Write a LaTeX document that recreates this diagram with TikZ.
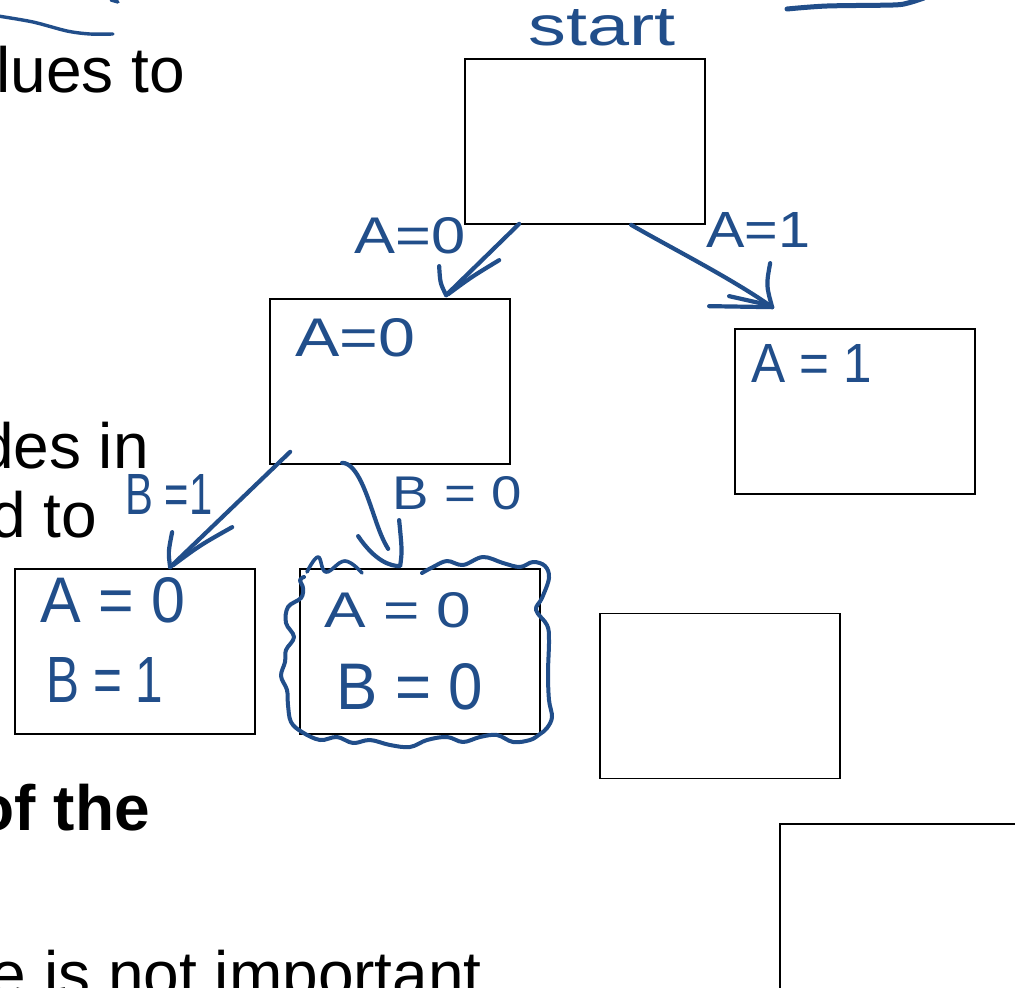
\documentclass[tikz,border=0pt]{standalone}
\usepackage{fontspec}
\setmainfont{Liberation Sans}
\usepackage{graphicx}
\usetikzlibrary{calc}
\definecolor{handblue}{RGB}{33,78,138}
\begin{document}
\begin{tikzpicture}[x=1pt,y=-1pt,
  box/.style={draw=black, line width=1.7pt, minimum width=240pt, minimum height=165pt, inner sep=0pt},
  hand/.style={draw=handblue, line width=4.2pt, line cap=round, line join=round},
  hw/.style={text=handblue, inner sep=0pt},
  slide/.style={inner sep=0pt, font=\fontsize{64}{76}\selectfont, anchor=base east}]
\useasboundingbox (0,0) rectangle (1015,988);
\clip (0,0) rectangle (1015,988);
\fill[white] (0,0) rectangle (1015,988);

% slide text fragments (cut at the left and bottom edges, as in the reference)
\node[slide] (t1) at (185,92) {lues to};
\node[slide] (t2) at (149,468) {des in};
\node[slide] (t3) at (97,537) {d to};
\node[slide, font=\fontsize{64}{76}\selectfont\bfseries] (t4) at (150,830) {of the};
\node[slide] (t5) at (482,996) {e is not important};

% boxes
\node[box] (start) at (585,141.5) {};
\node[box] (a0) at (390,381.5) {};
\node[box] (a1) at (855,411.5) {};
\node[box] (b1) at (135,651.5) {};
\node[box] (b0) at (420,651.5) {};
\node[box] (e1) at (720,696) {};
\node[box] (e2) at (900,906.5) {};

% handwritten labels
\node[hw] (lstart) at (602,28) {\resizebox{147pt}{36pt}{start}};
\node[hw] (la0) at (410,236) {\resizebox{111pt}{36pt}{A=0}};
\node[hw] (la1) at (758,230) {\resizebox{104pt}{35pt}{A=1}};
\node[hw] (ca0) at (355,338) {\resizebox{120pt}{38pt}{A=0}};
\node[hw] (ca1) at (812,363) {\resizebox{121pt}{38pt}{A = 1}};
\node[hw] (lb1) at (169,494) {\resizebox{87pt}{40pt}{B =1}};
\node[hw] (lb0) at (457,493) {\resizebox{129pt}{33pt}{B = 0}};
\node[hw] (cb1a) at (113,600) {\resizebox{144pt}{45pt}{A = 0}};
\node[hw] (cb1b) at (105,680) {\resizebox{117pt}{45pt}{B = 1}};
\node[hw] (cb0a) at (398,610) {\resizebox{147pt}{35pt}{A = 0}};
\node[hw] (cb0b) at (410,687) {\resizebox{146pt}{46pt}{B = 0}};

% top decorative strokes
\draw[hand, line width=3.4pt] plot[smooth] coordinates {(-2,16) (33,22) (67,31) (90,34) (113,34)};
\draw[hand, line width=3.4pt] (111,0) -- (118,2);
\draw[hand, line width=5pt] plot[smooth] coordinates {(787,9) (827,6) (893,5) (908,3) (924,-2)};

% start -> a0
\coordinate (tipA) at ($(a0.north west)+(177,-3)$);
\draw[hand] ($(start.south west)+(55,-1)$) -- (tipA);
\draw[hand] ($(tipA)+(-7,-29)$) .. controls ($(tipA)+(-6,-12)$) .. (tipA);
\draw[hand] ($(tipA)+(53,-35)$) .. controls ($(tipA)+(25,-18)$) .. ($(tipA)+(2,-1)$);

% start -> a1
\coordinate (tipB) at ($(a1.north west)+(38,-21)$);
\draw[hand] ($(start.south west)+(167,0)$) .. controls ($(start.south west)+(205,22)$) and ($(start.south west)+(270,55)$) .. (tipB);
\draw[hand] ($(tipB)+(-2,-44)$) .. controls ($(tipB)+(-6,-22)$) .. (tipB);
\draw[hand] ($(tipB)+(-63,-1)$) -- (tipB);
\draw[hand] ($(tipB)+(-43,-11)$) -- ($(tipB)+(-3,-2)$);

% a0 -> b1
\coordinate (tipC) at ($(b1.north west)+(156,-1)$);
\draw[hand] ($(a0.south west)+(21,-13)$) -- (tipC);
\draw[hand] ($(tipC)+(2,-35)$) .. controls ($(tipC)+(-2,-15)$) .. (tipC);
\draw[hand] ($(tipC)+(62,-40)$) .. controls ($(tipC)+(30,-22)$) .. ($(tipC)+(3,-2)$);

% a0 -> b0
\coordinate (tipD) at ($(b0.north west)+(101,-2)$);
\draw[hand] ($(a0.south west)+(73,-2)$) .. controls ($(a0.south west)+(88,-2)$) and ($(a0.south west)+(98,31)$) .. ($(a0.south west)+(105,51)$) .. controls ($(a0.south west)+(110,66)$) and ($(a0.south west)+(114,76)$) .. ($(a0.south west)+(119,84)$);
\draw[hand] ($(tipD)+(-42,-30)$) .. controls ($(tipD)+(-25,-5)$) and ($(tipD)+(-10,0)$) .. (tipD) .. controls ($(tipD)+(2,-15)$) .. ($(tipD)+(-1,-46)$);

% wavy outline around b0
\draw[hand, line width=4pt] plot[smooth, tension=0.6] coordinates {
 (422,573) (433,567) (447,561) (463,565) (483,557) (503,563) (520,567) (533,562) (545,566)
 (549,578) (542,598) (536,610) (547,625) (549,640) (548,673) (549,700) (552,717) (547,728) (540,734)
 (530,740) (513,742) (497,735) (480,737) (463,742) (447,737) (427,740) (410,747) (390,745) (370,740)
 (353,743) (337,737) (320,740) (302,732) (291,722) (288,705) (287,690) (281,676) (285,662) (286,650)
 (294,637) (286,623) (288,607) (301,598) (303,588) (300,580) (304,577)};
\draw[hand, line width=3.6pt] plot[smooth, tension=0.7] coordinates {(307,572) (318,557) (326,572) (345,561) (362,573)};
\end{tikzpicture}
\end{document}
